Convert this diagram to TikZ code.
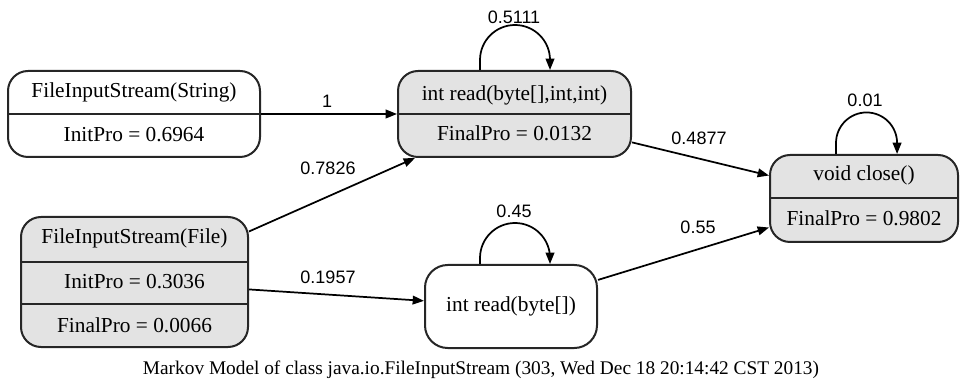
\documentclass[tikz,border=0pt]{standalone}
\usepackage{fontspec}
\setmainfont{Liberation Serif}
\newfontfamily\labelfont{Liberation Sans}
\usetikzlibrary{arrows.meta,calc}
\definecolor{statefill}{HTML}{E3E3E3}
\definecolor{ink}{HTML}{262626}

\begin{document}
\begin{tikzpicture}[x=0.75pt,y=0.75pt,
  state/.style={draw=ink, line width=1.5pt, rounded corners=15pt, inner sep=0pt},
  grey state/.style={state, fill=statefill},
  txt/.style={font=\fontsize{16}{19}\selectfont, inner sep=0pt, anchor=center},
  sep/.style={draw=ink, line width=1.5pt},
  edge/.style={draw=black, line width=1.3pt, -{Triangle[length=8.5pt,width=6.5pt]}},
  elabel/.style={font=\labelfont\fontsize{13.5}{16}\selectfont, inner sep=0pt}
]
\useasboundingbox (0,0) rectangle (962,385);

% state boxes
\node[state,      minimum width=189pt,    minimum height=64.5pt]  (A) at (134,271)   {};
\node[grey state, minimum width=174.75pt, minimum height=64.5pt]  (B) at (514.5,271) {};
\node[grey state, minimum width=170.25pt, minimum height=97.5pt]  (C) at (134.5,103) {};
\node[state,      minimum width=129pt,    minimum height=62.25pt, rounded corners=17pt] (D) at (511,78.5) {};
\node[grey state, minimum width=141pt,    minimum height=65.25pt] (E) at (864,186.5) {};

% record separators
\draw[sep] (A.west) -- (A.east);
\draw[sep] (B.west) -- (B.east);
\draw[sep] (E.west) -- (E.east);
\draw[sep] ($(C.west)+(0,20)$) -- ($(C.east)+(0,20)$);
\draw[sep] ($(C.west)+(0,-22)$) -- ($(C.east)+(0,-22)$);

% record fields
\node[txt] (A1) at (134,293) {FileInputStream(String)};
\node[txt] (A2) at (134,250) {InitPro = 0.6964};
\node[txt] (B1) at (514.5,290) {int read(byte[],int,int)};
\node[txt] (B2) at (514.5,252) {FinalPro = 0.0132};
\node[txt] (C1) at (134.5,147) {FileInputStream(File)};
\node[txt] (C2) at (134.5,103) {InitPro = 0.3036};
\node[txt] (C3) at (134.5,60)  {FinalPro = 0.0066};
\node[txt] (D1) at (511,78.5)  {int read(byte[])};
\node[txt] (E1) at (864,210)   {void close()};
\node[txt] (E2) at (864,167)   {FinalPro = 0.9802};

% transitions
\draw[edge] (A) -- (B);
\draw[edge] (C) -- (B);
\draw[edge] (C) -- (D);
\draw[edge] (B) -- (E);
\draw[edge] (D) -- (E);

% self loops
\draw[edge] ($(B.north)+(-34.5,0)$) -- ++(0,10) arc[start angle=180,end angle=0,radius=26.25pt] -- ++(0,-10);
\draw[edge] ($(D.north)+(-31,0)$) -- ++(0,6) arc[start angle=180,end angle=0,radius=26.25pt] -- ++(0,-6);
\draw[edge] ($(E.north)+(-28,0)$) -- ++(0,11) arc[start angle=180,end angle=0,radius=22.9pt] -- ++(0,-11);

% transition probabilities
\node[elabel] (l1) at (327,284) {1};
\node[elabel] (l2) at (328,217) {0.7826};
\node[elabel] (l3) at (328,108) {0.1957};
\node[elabel] (l4) at (699,247) {0.4877};
\node[elabel] (l5) at (698,158) {0.55};
\node[elabel] (l6) at (514,368) {0.5111};
\node[elabel] (l7) at (514,174) {0.45};
\node[elabel] (l8) at (865,285) {0.01};

% caption
\node[txt, font=\fontsize{14.5}{17}\selectfont] (cap) at (481,15) {Markov Model of class java.io.FileInputStream (303, Wed Dec 18 20:14:42 CST 2013)};
\end{tikzpicture}
\end{document}
